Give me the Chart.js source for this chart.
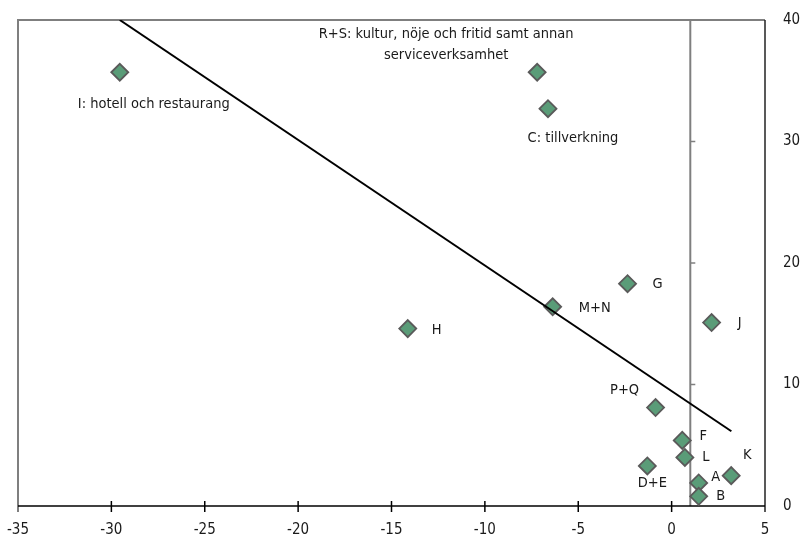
<!DOCTYPE html>
<html>
<head>
<meta charset="utf-8">
<script src="https://cdn.jsdelivr.net/npm/chart.js@4.4.1/dist/chart.umd.min.js"></script>
<style>
  html, body { margin: 0; padding: 0; background: #fff; }
  #wrap { width: 800px; height: 538px; }
</style>
</head>
<body>
<div id="wrap"><canvas id="chart"></canvas></div>
<script>
  /* ---------------- DATA ---------------- */

  const sectorLabels = [
    'I: hotell och restaurang',
    'R+S: kultur, nöje och fritid samt annan\nserviceverksamhet',
    'C: tillverkning',
    'G', 'M+N', 'H', 'J', 'P+Q', 'F', 'L', 'D+E', 'A', 'B', 'K'
  ];
  const xValues = [-29.55, -7.2, -6.62, -2.36, -6.37, -14.13, 2.14, -0.86, 0.57, 0.71, -1.3, 1.45, 1.45, 3.19];
  const yValues = [35.7, 35.7, 32.7, 18.3, 16.4, 14.6, 15.1, 8.1, 5.4, 4.0, 3.3, 1.9, 0.8, 2.5];

  const trendX = [-29.55, 3.2];
  const trendY = [40, 6.15];

  const xTicks = [-35, -30, -25, -20, -15, -10, -5, 0, 5];
  const yTicks = [0, 10, 20, 30, 40];
  const yAxisAt = 1;

  /* ---------------- LAYOUT / STYLE ---------------- */

  // label centre offset from its marker, in px
  const labelOffsets = [
    [34, 32], [-91, -38], [25, 30], [30, 1], [42, 1], [29, 2], [28, 1],
    [-31, -17], [21, -4], [21, 0], [5, 17], [17, -6], [22, 0], [16, -20]
  ];
  const FONT = '"Liberation Sans Narrow", "DejaVu Sans Condensed", "Arial Narrow", sans-serif';
  const LABEL_SIZE = 14.5;
  const TICK_SIZE = 15;

  const framePlugin = {
    id: 'frame',
    beforeDatasetsDraw(chart) {
      const { ctx, chartArea: a, scales: { x, y } } = chart;
      ctx.save();
      // top + left border (grey)
      ctx.strokeStyle = '#7f7f7f';
      ctx.lineWidth = 2;
      ctx.beginPath();
      ctx.moveTo(a.left, a.bottom + 6);
      ctx.lineTo(a.left, a.top);
      ctx.lineTo(a.right, a.top);
      ctx.stroke();

      // y axis crossing line with ticks
      const xc = x.getPixelForValue(yAxisAt);
      ctx.beginPath();
      ctx.moveTo(xc, a.top);
      ctx.lineTo(xc, a.bottom);
      ctx.stroke();
      ctx.lineWidth = 1.5;
      yTicks.slice(1, -1).forEach(v => {
        const py = y.getPixelForValue(v);
        ctx.beginPath();
        ctx.moveTo(xc, py);
        ctx.lineTo(xc + 5, py);
        ctx.stroke();
      });

      // right border
      ctx.strokeStyle = '#222';
      ctx.lineWidth = 1.5;
      ctx.beginPath();
      ctx.moveTo(a.right, a.top);
      ctx.lineTo(a.right, a.bottom + 6);
      ctx.stroke();

      // x axis + crossing ticks
      ctx.strokeStyle = '#000';
      ctx.beginPath();
      ctx.moveTo(a.left, a.bottom);
      ctx.lineTo(a.right, a.bottom);
      ctx.stroke();
      xTicks.slice(1, -1).forEach(v => {
        const px = x.getPixelForValue(v);
        ctx.beginPath();
        ctx.moveTo(px, a.bottom - 5);
        ctx.lineTo(px, a.bottom + 6);
        ctx.stroke();
      });
      ctx.restore();
    }
  };

  const labelPlugin = {
    id: 'pointLabels',
    afterDatasetsDraw(chart) {
      const { ctx } = chart;
      const meta = chart.getDatasetMeta(1);
      ctx.save();
      ctx.font = LABEL_SIZE + 'px ' + FONT;
      ctx.fillStyle = '#1a1a1a';
      ctx.textAlign = 'center';
      ctx.textBaseline = 'middle';
      meta.data.forEach((pt, i) => {
        const [dx, dy] = labelOffsets[i];
        sectorLabels[i].split('\n').forEach((line, j) => {
          ctx.fillText(line, pt.x + dx, pt.y + dy + j * 21);
        });
      });
      ctx.restore();
    }
  };

  new Chart(document.getElementById('chart'), {
    type: 'scatter',
    data: {
      datasets: [
        {
          type: 'line',
          data: trendX.map((v, i) => ({ x: v, y: trendY[i] })),
          borderColor: '#000',
          borderWidth: 2,
          pointRadius: 0,
          fill: false,
          order: 0
        },
        {
          data: xValues.map((v, i) => ({ x: v, y: yValues[i] })),
          pointStyle: 'rectRot',
          pointRadius: 8.5,
          pointHoverRadius: 8.5,
          backgroundColor: '#5a9c78',
          borderColor: '#5a5a5a',
          borderWidth: 1.8,
          order: 1
        }
      ]
    },
    options: {
      responsive: true,
      maintainAspectRatio: false,
      animation: false,
      layout: { autoPadding: false, padding: { left: 18, top: 20, right: 0, bottom: 0 } },
      plugins: { legend: { display: false }, tooltip: { enabled: false } },
      scales: {
        x: {
          type: 'linear',
          min: -35,
          max: 5,
          afterBuildTicks: axis => { axis.ticks = xTicks.map(v => ({ value: v })); },
          afterFit: axis => {
            axis.height = 32;
            axis.paddingLeft = 0;
            axis.paddingRight = 0;
          },
          grid: { display: false, drawTicks: false },
          border: { display: false },
          ticks: { padding: 15, color: '#1a1a1a', maxRotation: 0, font: { family: FONT, size: TICK_SIZE } }
        },
        y: {
          position: 'right',
          min: 0,
          max: 40,
          afterBuildTicks: axis => { axis.ticks = yTicks.map(v => ({ value: v })); },
          afterFit: axis => {
            axis.width = 35;
            axis.paddingTop = 0;
            axis.paddingBottom = 0;
          },
          grid: { display: false, drawTicks: false },
          border: { display: false },
          ticks: { padding: 18, color: '#1a1a1a', font: { family: FONT, size: TICK_SIZE } }
        }
      }
    },
    plugins: [framePlugin, labelPlugin]
  });
</script>
</body>
</html>
